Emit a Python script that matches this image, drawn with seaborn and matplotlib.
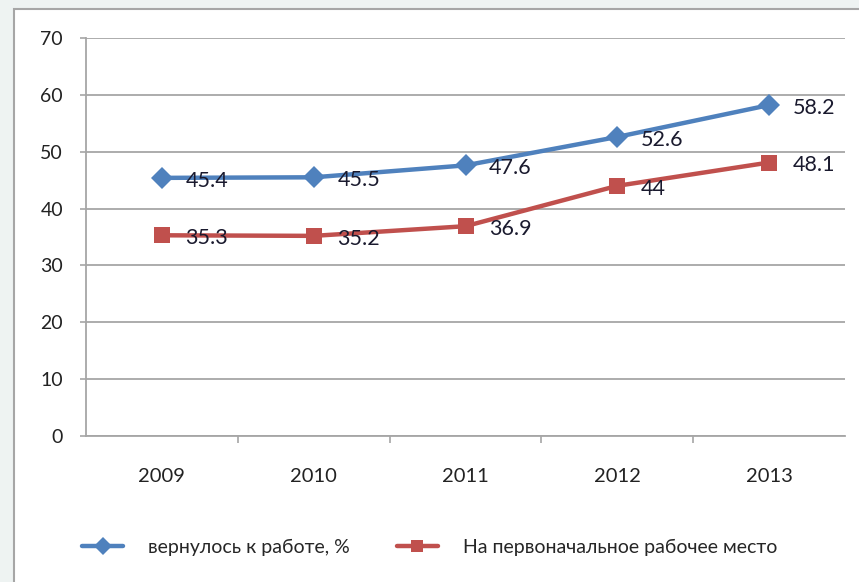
import pandas as pd
import matplotlib.pyplot as plt
import matplotlib.patches as mpatches
import seaborn as sns

years = ['2009', '2010', '2011', '2012', '2013']
returned = [45.4, 45.5, 47.6, 52.6, 58.2]
same_place = [35.3, 35.2, 36.9, 44, 48.1]
name1 = 'вернулось к работе, %'
name2 = 'На первоначальное рабочее место'

df = pd.DataFrame({'год': years * 2,
                   'значение': returned + same_place,
                   'ряд': [name1] * 5 + [name2] * 5})

sns.set_style('white')
plt.rcParams['font.family'] = ['Lato', 'Open Sans', 'DejaVu Sans']

fig = plt.figure(figsize=(8.59, 5.82), dpi=100, facecolor='#eef3f2')
# белая панель с рамкой
fig.patches.append(mpatches.Rectangle((14 / 859, -0.01), 1.0, 1 - 9 / 582 + 0.01,
                                      transform=fig.transFigure, facecolor='white',
                                      edgecolor='#a6a6a6', linewidth=1.5, zorder=-5))
ax = fig.add_axes([86 / 859, 1 - 436 / 582, 759 / 859, 398 / 582])
ax.set_facecolor('none')

colors = {name1: '#4f81bd', name2: '#c0504d'}
markers = {name1: 'D', name2: 's'}
sns.lineplot(data=df, x='год', y='значение', hue='ряд', style='ряд',
             palette=colors, markers=markers, dashes=False, linewidth=3.2,
             markersize=11, markeredgewidth=0, ax=ax, zorder=3)

for vals in (returned, same_place):
    for i, v in enumerate(vals):
        ax.annotate(f'{v:g}', (i, v), xytext=(17, -2), textcoords='offset points',
                    ha='left', va='center', fontsize=15.5, color='#1a1a2e', zorder=4)

ax.set_xlim(-0.5, 4.5)
ax.set_ylim(0, 70)
ax.set_yticks(range(0, 71, 10))
ax.set_xticks([0.5, 1.5, 2.5, 3.5], minor=True)
ax.set_xticks(range(5))
ax.set_xticklabels(years)
ax.yaxis.grid(True, color='#a6a6a6', linewidth=1.3)
ax.set_axisbelow(True)
ax.tick_params(axis='x', which='major', length=0, pad=23, labelsize=14.5)
ax.tick_params(axis='x', which='minor', length=5, width=1.2, direction='out', bottom=True)
ax.tick_params(axis='y', length=4.5, width=1.2, pad=12, labelsize=14, left=True)
ax.tick_params(axis='both', which='both', colors='#a6a6a6', labelcolor='#222222')
for s in ('top', 'right'):
    ax.spines[s].set_visible(False)
for s in ('left', 'bottom'):
    ax.spines[s].set_color('#a6a6a6')
    ax.spines[s].set_linewidth(1.3)
ax.set_xlabel('')
ax.set_ylabel('')

leg = ax.legend(loc='center left', bbox_to_anchor=(-0.028, -0.28), ncol=2, frameon=False,
                fontsize=14, handlelength=2.1, handletextpad=1.3, columnspacing=2.4,
                markerscale=0.8)

fig.savefig('out.png', dpi=100, facecolor=fig.get_facecolor())
